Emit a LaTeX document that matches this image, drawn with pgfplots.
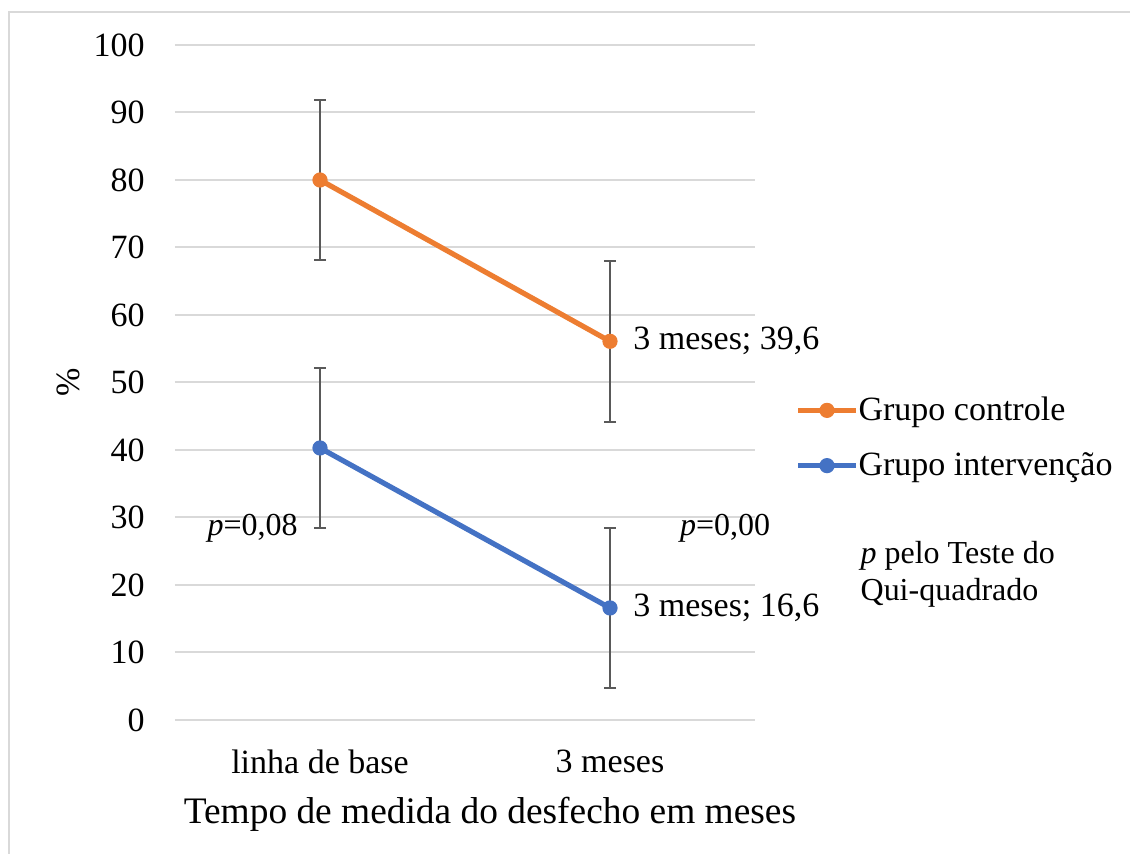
\documentclass[border=0pt]{standalone}
\usepackage{pgfplots}
\pgfplotsset{compat=1.18}
\usepackage{fontspec}
\setmainfont{Liberation Serif}
\definecolor{corange}{HTML}{ED7D31}
\definecolor{cblue}{HTML}{4472C4}
\definecolor{cgrid}{HTML}{D9D9D9}
\definecolor{cerr}{HTML}{595959}
\newcommand{\fs}{\fontsize{17}{20}\selectfont}
\newcommand{\fa}{\fontsize{16}{18.3}\selectfont}
\begin{document}
\begin{tikzpicture}
\useasboundingbox (0,0) rectangle (565pt,-427pt);
\draw[cgrid, line width=1pt] (4.25pt,-430pt) -- (4.25pt,-6.25pt) -- (570pt,-6.25pt);
\begin{axis}[
  at={(87.5pt,-360pt)}, anchor=south west,
  width=290pt, height=337.5pt, scale only axis,
  xmin=-0.5, xmax=1.5, ymin=0, ymax=100,
  ytick distance=10, xtick={0,1}, xticklabels={linha de base, 3 meses},
  axis line style={draw=none}, major tick style={draw=none},
  ymajorgrids, grid style={cgrid, line width=1pt},
  clip=false,
  /pgf/number format/assume math mode=true,
  tick label style={font=\fs},
  yticklabel style={anchor=east, inner sep=0pt, xshift=-15pt},
  xticklabel style={anchor=north, inner sep=0pt, yshift=-15pt},
  xlabel={Tempo de medida do desfecho em meses},
  xlabel style={at={(rel axis cs:0.543,0)}, anchor=center, yshift=-47pt, font=\fontsize{18.7}{22}\selectfont},
  ylabel={\%},
  ylabel style={at={(rel axis cs:-0.1845,0.5)}, anchor=center, font=\fs},
  legend style={at={(rel axis cs:1,0.418)}, anchor=west, xshift=20pt, draw=none, fill=none, inner sep=0pt, font=\fs, row sep=14.5pt, nodes={inner sep=0pt, anchor=west}},
  legend cell align=left,
  legend image code/.code={\draw[mark repeat=2, mark phase=2, #1] plot coordinates {(0pt,0pt) (14.5pt,0pt) (29pt,0pt)};},
]
\addplot[corange, line width=2.6pt, mark=*, mark size=3.5pt, mark options={line width=0.6pt},
  error bars/.cd, y dir=both, y explicit,
  error bar style={cerr, line width=1pt},
  error mark options={cerr, rotate=90, mark size=3pt, line width=1pt}]
  coordinates {(0,80.0) +- (0,11.8) (1,56.1) +- (0,11.9)};
\addlegendentry{Grupo controle}
\addplot[cblue, line width=2.6pt, mark=*, mark size=3.5pt, mark options={line width=0.6pt},
  error bars/.cd, y dir=both, y explicit,
  error bar style={cerr, line width=1pt},
  error mark options={cerr, rotate=90, mark size=3pt, line width=1pt}]
  coordinates {(0,40.3) +- (0,11.8) (1,16.6) +- (0,11.9)};
\addlegendentry{Grupo intervenção}
\node[anchor=west, font=\fs, inner sep=0pt, xshift=11.5pt] at (axis cs:1,56.1) {3 meses; 39,6};
\node[anchor=west, font=\fs, inner sep=0pt, xshift=11.5pt] at (axis cs:1,16.6) {3 meses; 16,6};
\node[anchor=east, font=\fa, inner sep=0pt, xshift=-11pt] at (axis cs:0,28.4) {\textit{p}=0,08};
\node[anchor=center, font=\fa, inner sep=0pt] at (axis cs:1.397,28.4) {\textit{p}=0,00};
\node[anchor=west, align=left, font=\fa, inner sep=0pt, xshift=1pt] at (axis cs:1.856,21.6) {\textit{p} pelo Teste do\\Qui-quadrado};
\end{axis}
\end{tikzpicture}
\end{document}
